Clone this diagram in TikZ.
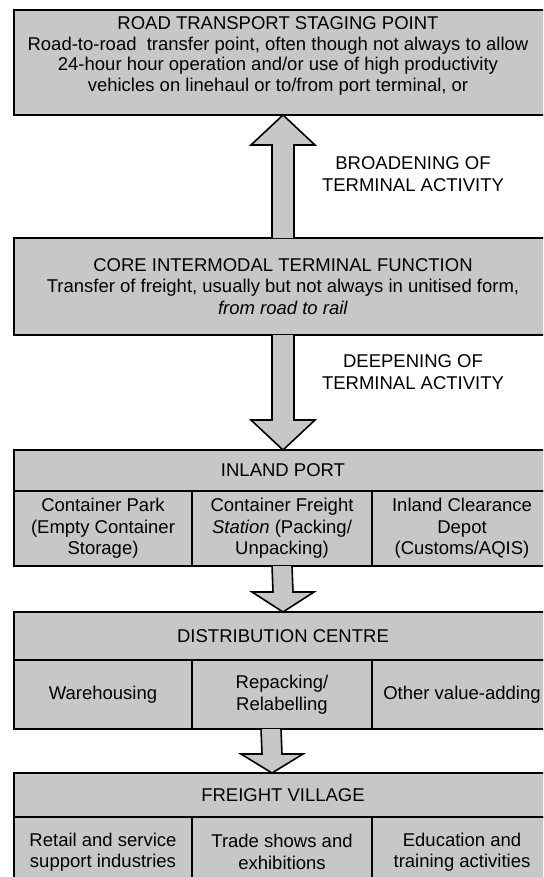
\documentclass[tikz,border=0pt]{standalone}
\usepackage{fontspec}
\setmainfont{Liberation Sans}
\usetikzlibrary{calc,positioning}

\tikzset{
  box/.style={draw, line width=1.6pt, fill=black!22, anchor=north west,
    inner sep=0pt, outer sep=0pt, align=center,
    font=\fontsize{18.5}{21.5}\selectfont},
  blockarrow/.style={draw, line width=1.6pt, fill=black!22, line join=miter},
  txt/.style={align=center, inner sep=0pt, font=\fontsize{18.5}{21.5}\selectfont}
}

\begin{document}
\begin{tikzpicture}[x=1pt, y=-1pt]
        \useasboundingbox (0,0) rectangle (543,877);
        \clip (0,0) rectangle (543,877);

        % top box
        \node[box, minimum width=538pt, minimum height=105pt] (road) at (14,10) {};
        \node[txt, font=\fontsize{18.5}{20.5}\selectfont] (roadtext) at (278,56) {ROAD TRANSPORT STAGING POINT\\
            Road-to-road\ \ transfer point, often though not always to allow\\
            24-hour hour operation and/or use of high productivity\\
            vehicles on linehaul or to/from port terminal, or};

        % core
        \node[box, minimum width=538pt, minimum height=97pt] (core) at (14,238)
            {CORE INTERMODAL TERMINAL FUNCTION\\
             Transfer of freight, usually but not always in unitised form,\\
             \textit{from road to rail}};

        % inland port
        \node[box, minimum width=538pt, minimum height=41pt] (inland) at (14,450) {INLAND PORT};
        \node[box, minimum width=178pt, minimum height=75pt] (park) at (14,491)
            {Container Park\\(Empty Container\\Storage)};
        \node[box, minimum width=180pt, minimum height=75pt, right=0pt of park] (station)
            {Container Freight\\\textit{Station} (Packing/\\Unpacking)};
        \node[box, minimum width=180pt, minimum height=75pt, right=0pt of station] (depot)
            {Inland Clearance\\Depot\\(Customs/AQIS)};

        % distribution centre
        \node[box, minimum width=538pt, minimum height=48pt] (dist) at (14,612) {DISTRIBUTION CENTRE};
        \node[box, minimum width=178pt, minimum height=69pt] (store) at (14,660) {Warehousing};
        \node[box, minimum width=180pt, minimum height=69pt, right=0pt of store] (repack)
            {Repacking/\\Relabelling};
        \node[box, minimum width=180pt, minimum height=69pt, right=0pt of repack] (value)
            {Other value-adding};

        % freight village
        \node[box, minimum width=538pt, minimum height=44pt] (village) at (14,773) {FREIGHT VILLAGE};
        \node[box, minimum width=178pt, minimum height=70pt] (retail) at (14,817)
            {Retail and service\\support industries};
        \node[box, minimum width=180pt, minimum height=70pt, right=0pt of retail] (trade)
            {Trade shows and\\exhibitions};
        \node[box, minimum width=180pt, minimum height=70pt, right=0pt of trade] (school)
            {Education and\\training activities};

        % labels
        \node[txt] (broad) at (413,174) {BROADENING OF\\TERMINAL ACTIVITY};
        \node[txt] (deep) at (413,372) {DEEPENING OF\\TERMINAL ACTIVITY};

        % block arrows
        \draw[blockarrow] ($(core.north)+(-11,0)$) -- ($(road.south)+(-11,30)$) -- ++(-21,0)
            -- (road.south) -- ($(road.south)+(32,30)$) -- ++(-21,0) -- ($(core.north)+(11,0)$);
        \draw[blockarrow] ($(core.south)+(-11,0)$) -- ($(inland.north)+(-11,-30)$) -- ++(-21,0)
            -- (inland.north) -- ($(inland.north)+(32,-30)$) -- ++(-21,0) -- ($(core.south)+(11,0)$);
        \draw[blockarrow] ($(station.south)+(-10,0)$) -- ($(dist.north)+(-10,-20)$) -- ++(-21,0)
            -- (dist.north) -- ($(dist.north)+(31,-20)$) -- ++(-21,0) -- ($(station.south)+(10,0)$);
        \draw[blockarrow] ($(repack.south)+(-21,0)$) -- ($(village.north)+(-21,-19)$) -- ++(-21,0)
            -- ($(village.north)+(-11,0)$) -- ($(village.north)+(20,-19)$) -- ++(-21,0) -- ($(repack.south)+(-1,0)$);
    \end{tikzpicture}
\end{document}
